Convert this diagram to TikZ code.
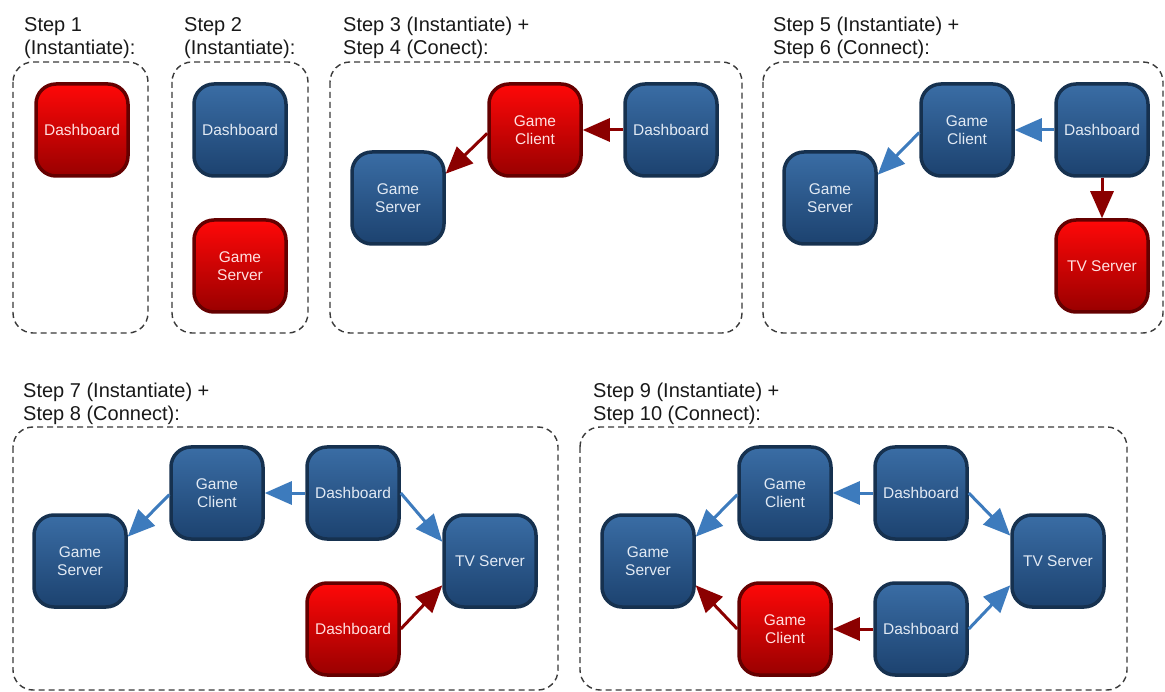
\documentclass[tikz,border=0pt]{standalone}
\usepackage{fontspec}
\setmainfont{Liberation Sans}
\usetikzlibrary{arrows.meta}

\definecolor{blueTop}{HTML}{3A6DA5}
\definecolor{blueBot}{HTML}{1C426F}
\definecolor{blueEdge}{HTML}{16314F}
\definecolor{blueText}{HTML}{E2EAF4}
\definecolor{redTop}{HTML}{FF0808}
\definecolor{redBot}{HTML}{990000}
\definecolor{redEdge}{HTML}{650000}
\definecolor{redText}{HTML}{FFE0E0}
\definecolor{arrowBlue}{HTML}{3D7BBD}
\definecolor{arrowRed}{HTML}{8B0000}
\definecolor{frameGray}{HTML}{3A3A3A}

\tikzset{
  comp/.style={rounded corners=20pt, line width=3.5pt, minimum width=92pt,
    minimum height=92pt, inner sep=0pt, align=center,
    font=\fontsize{15.5}{18}\selectfont},
  bluecomp/.style={comp, draw=blueEdge, top color=blueTop, bottom color=blueBot,
    text=blueText},
  redcomp/.style={comp, draw=redEdge, top color=redTop, bottom color=redBot,
    text=redText},
  link/.style={line width=3pt, -{Triangle[length=27pt,width=23pt]}},
  bluelink/.style={link, draw=arrowBlue, fill=arrowBlue},
  redlink/.style={link, draw=arrowRed, fill=arrowRed},
  group/.style={draw=frameGray, line width=1.4pt, dash pattern=on 6pt off 4pt,
    rounded corners=20pt},
  caption/.style={anchor=north west, inner sep=0pt, align=left,
    font=\fontsize{20}{23}\selectfont, text=black!90},
}

\begin{document}
\begin{tikzpicture}[x=1pt, y=-1pt]
\useasboundingbox[fill=white] (0,0) rectangle (1165,692);

% ---- group frames ----
\draw[group] (13,62) rectangle (148,333);
\draw[group] (172,62) rectangle (308,333);
\draw[group] (330,62) rectangle (742,333);
\draw[group] (763,62) rectangle (1163,333);
\draw[group] (13,427) rectangle (558,690);
\draw[group] (580,427) rectangle (1127,690);

% ---- captions ----
\node[caption] (cap1) at (24,17) {Step 1\\(Instantiate):};
\node[caption] (cap2) at (184,17) {Step 2\\(Instantiate):};
\node[caption] (cap3) at (343,17) {Step 3 (Instantiate) +\\Step 4 (Conect):};
\node[caption] (cap4) at (773,17) {Step 5 (Instantiate) +\\Step 6 (Connect):};
\node[caption] (cap5) at (23,383) {Step 7 (Instantiate) +\\Step 8 (Connect):};
\node[caption] (cap6) at (593,383) {Step 9 (Instantiate) +\\Step 10 (Connect):};

% ---- step 1 ----
\node[redcomp] (d1) at (82,130) {Dashboard};

% ---- step 2 ----
\node[bluecomp] (d2) at (240,130) {Dashboard};
\node[redcomp] (gs2) at (240,266) {Game\\Server};

% ---- steps 3 + 4 ----
\node[bluecomp] (gs3) at (398,198) {Game\\Server};
\node[redcomp] (gc3) at (535,130) {Game\\Client};
\node[bluecomp] (d3) at (671,130) {Dashboard};
\draw[redlink] (d3.west) -- (gc3.east);
\draw[redlink] (gc3.184) -- (gs3.27);

% ---- steps 5 + 6 ----
\node[bluecomp] (gs4) at (830,198) {Game\\Server};
\node[bluecomp] (gc4) at (967,130) {Game\\Client};
\node[bluecomp] (d4) at (1102,130) {Dashboard};
\node[redcomp] (tv4) at (1102,266) {TV Server};
\draw[bluelink] (d4.west) -- (gc4.east);
\draw[bluelink] (gc4.183) -- (gs4.26);
\draw[redlink] (d4.south) -- (tv4.north);

% ---- steps 7 + 8 ----
\node[bluecomp] (gs5) at (80,561) {Game\\Server};
\node[bluecomp] (gc5) at (217,493) {Game\\Client};
\node[bluecomp] (d5) at (353,493) {Dashboard};
\node[bluecomp] (tv5) at (490,561) {TV Server};
\node[redcomp] (rd5) at (353,629) {Dashboard};
\draw[bluelink] (d5.west) -- (gc5.east);
\draw[bluelink] (gc5.182) -- (gs5.27);
\draw[bluelink] (d5.east) -- (tv5.158);
\draw[redlink] (rd5.east) -- (tv5.207);

% ---- steps 9 + 10 ----
\node[bluecomp] (gs6) at (648,561) {Game\\Server};
\node[bluecomp] (gc6) at (785,493) {Game\\Client};
\node[bluecomp] (d6) at (921,493) {Dashboard};
\node[bluecomp] (tv6) at (1058,561) {TV Server};
\node[redcomp] (rgc6) at (785,629) {Game\\Client};
\node[bluecomp] (d6b) at (921,629) {Dashboard};
\draw[bluelink] (d6.west) -- (gc6.east);
\draw[bluelink] (gc6.182) -- (gs6.27);
\draw[bluelink] (d6.east) -- (tv6.152);
\draw[bluelink] (d6b.east) -- (tv6.207);
\draw[redlink] (d6b.west) -- (rgc6.east);
\draw[redlink] (rgc6.west) -- (gs6.333);
\end{tikzpicture}
\end{document}
